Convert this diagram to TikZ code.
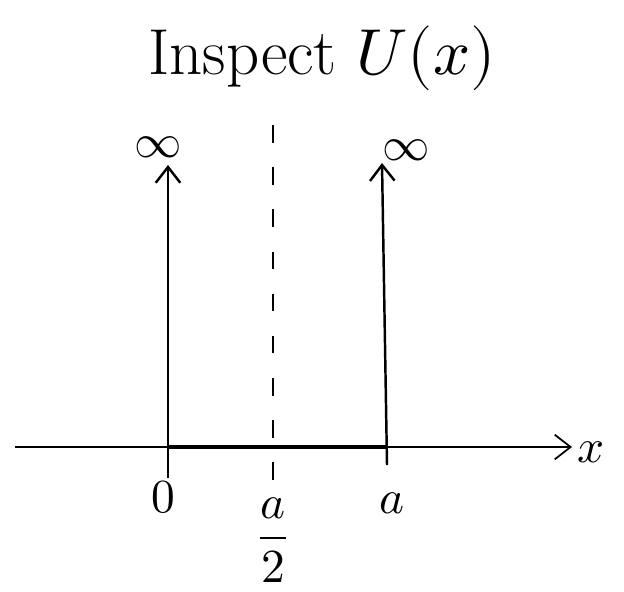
\documentclass[tikz,border=0pt]{standalone}
\usepackage{tikz}
\usepackage{amsmath}
\usepackage{unicode-math}
\usetikzlibrary{arrows.meta, positioning}
\tikzstyle{lbl} = [inner sep=0pt, font=\fontsize{27}{32}\selectfont]
\tikzstyle{wall} = [line width=1.4pt, -{Straight Barb[length=9pt, width=14pt]}]

\begin{document}
\begin{tikzpicture}[x=0.02cm, y=-0.02cm]
            \useasboundingbox (0,0) rectangle (624,591);
            % Title
            \node[inner sep=0pt, anchor=base, font=\fontsize{37}{44}\selectfont] (title) at (322,75) {Inspect $U(x)$};
            
            % Axis
            \coordinate (axstart) at (15,447);
            \coordinate (axend) at (572,447);
            \node[lbl, anchor=west] (xlab) at (577,452) {$x$};
            \draw[line width=1pt, -{Straight Barb[length=9pt, width=14pt]}] (axstart) -- (axend);
            
            % Walls at 0 and a
            \coordinate (wall0) at (168,478);
            \coordinate (walla) at (387,465);
            \node[lbl] (inf0) at (158,147) {$\infty$};
            \node[lbl] (infa) at (406,150) {$\infty$};
            \draw[wall] (wall0) -- (168,165);
            \draw[wall] (walla) -- (382,163);
            
            % Bottom of the well
            \coordinate (well0) at (168,447);
            \coordinate (wella) at (387,447);
            \draw[line width=2.6pt] (well0) -- (wella);
            
            % Middle line
            \coordinate (midtop) at (273,125);
            \coordinate (midbot) at (273,490);
            \draw[dashed, dash pattern=on 10pt off 14pt, line width=0.8pt] (midtop) -- (midbot);
            
            % Labels
            \node[lbl] (lab0) at (163,497) {$0$};
            \node[lbl] (laba) at (392,503) {$a$};
            \node[lbl] (labhalf) at (273,540) {$\dfrac{a}{2}$};
        \end{tikzpicture}
\end{document}
